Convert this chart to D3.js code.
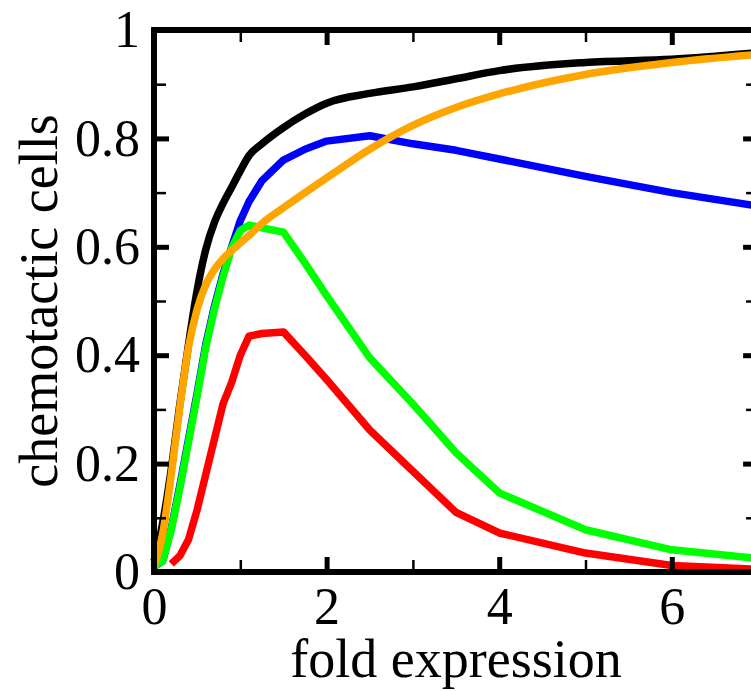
<!DOCTYPE html>
<html><head><meta charset="utf-8">
<script src="https://cdn.jsdelivr.net/npm/d3@7"></script>
<style>html,body{margin:0;padding:0;background:#fff;overflow:hidden}</style>
</head><body><svg id="chart" width="751" height="691"></svg>
<script>
const xGrid   = [0, 0.1, 0.2, 0.3, 0.4, 0.5, 0.6, 0.7, 0.8, 0.9, 1.0, 1.1, 1.25, 1.5, 1.75, 2, 2.5, 3, 3.5, 4, 5, 6, 7];
const black   = [0.02, 0.09, 0.19, 0.31, 0.42, 0.52, 0.595, 0.645, 0.68, 0.71, 0.74, 0.768, 0.79, 0.82, 0.845, 0.865, 0.883, 0.895, 0.91, 0.925, 0.94, 0.946, 0.958];
const blue    = [0.01, 0.02, 0.08, 0.16, 0.245, 0.33, 0.42, 0.49, 0.55, 0.60, 0.648, 0.683, 0.722, 0.76, 0.78, 0.795, 0.805, 0.79, 0.778, 0.762, 0.73, 0.70, 0.675];
const green   = [0.01, 0.02, 0.078, 0.155, 0.24, 0.325, 0.415, 0.485, 0.545, 0.598, 0.63, 0.64, 0.635, 0.627, 0.57, 0.51, 0.395, 0.31, 0.22, 0.146, 0.078, 0.041, 0.025];
const red     = [null, null, 0.015, 0.03, 0.06, 0.115, 0.18, 0.245, 0.31, 0.35, 0.40, 0.435, 0.44, 0.443, 0.40, 0.355, 0.262, 0.186, 0.11, 0.072, 0.035, 0.012, 0.005];
const orange  = [0.01, 0.07, 0.18, 0.305, 0.415, 0.485, 0.53, 0.558, 0.578, 0.593, 0.607, 0.621, 0.643, 0.672, 0.70, 0.727, 0.78, 0.824, 0.857, 0.882, 0.918, 0.94, 0.955];
const seriesNames  = ["black", "blue", "green", "red", "orange"];
const seriesColors = ["#000000", "#0000ff", "#00ff00", "#ff0000", "#ffa500"];
const xMajorTicks = [0, 2, 4, 6];
const xMinorTicks = [1, 3, 5, 7];
const yMajorTicks = [0, 0.2, 0.4, 0.6, 0.8, 1];
const yMinorTicks = [0.1, 0.3, 0.5, 0.7, 0.9];
const xTitle = "fold expression";
const yTitle = "chemotactic cells";

const series = [black, blue, green, red, orange];
const svg = d3.select("#chart");
const font = "'Liberation Serif','Times New Roman',Times,serif";
const x = d3.scaleLinear().domain([0, 7]).range([154, 154 + 7 * 86.3]);
const y = d3.scaleLinear().domain([0, 1]).range([572, 30]);

const lineLinear = d3.line()
  .defined(d => d[1] !== null)
  .x(d => x(d[0])).y(d => y(d[1]));
const lineSmooth = d3.line()
  .defined(d => d[1] !== null)
  .curve(d3.curveMonotoneX)
  .x(d => x(d[0])).y(d => y(d[1]));

const g = svg.append("g");
series.forEach((s, i) => {
  g.append("path")
    .datum(xGrid.map((xv, j) => [xv, s[j]]))
    .attr("d", seriesNames[i] === "orange" || seriesNames[i] === "black" ? lineSmooth : lineLinear)
    .attr("fill", "none")
    .attr("stroke", seriesColors[i])
    .attr("stroke-width", 7.5)
    .attr("stroke-linejoin", "round")
    .attr("stroke-linecap", "butt");
});

// frame
svg.append("rect")
  .attr("x", x(0)).attr("y", y(1))
  .attr("width", x(7) - x(0)).attr("height", y(0) - y(1))
  .attr("fill", "none").attr("stroke", "#000").attr("stroke-width", 6);

function styleAxis(sel, w) {
  sel.select(".domain").remove();
  sel.selectAll(".tick line").attr("stroke", "#000").attr("stroke-width", w);
  sel.selectAll("text").attr("font-family", font).attr("font-size", 52).attr("fill", "#000");
}
const yfmt = d => d === 0 ? "0" : d === 1 ? "1" : d.toFixed(1);

// major axes
svg.append("g").attr("transform", `translate(${x(0)},0)`)
  .call(d3.axisLeft(y).tickValues(yMajorTicks).tickFormat(yfmt).tickSizeInner(-15).tickSizeOuter(0).tickPadding(14))
  .call(s => styleAxis(s, 5));
svg.append("g").attr("transform", `translate(0,${y(0)})`)
  .call(d3.axisBottom(x).tickValues(xMajorTicks).tickFormat(d3.format("d")).tickSizeInner(-15).tickSizeOuter(0).tickPadding(15))
  .call(s => styleAxis(s, 5));
svg.append("g").attr("transform", `translate(0,${y(1)})`)
  .call(d3.axisTop(x).tickValues(xMajorTicks).tickFormat("").tickSizeInner(-15).tickSizeOuter(0))
  .call(s => styleAxis(s, 5));
svg.append("g").attr("transform", `translate(${x(7)},0)`)
  .call(d3.axisRight(y).tickValues(yMajorTicks).tickFormat("").tickSizeInner(-15).tickSizeOuter(0))
  .call(s => styleAxis(s, 5));
// minor ticks
svg.append("g").attr("transform", `translate(${x(0)},0)`)
  .call(d3.axisLeft(y).tickValues(yMinorTicks).tickFormat("").tickSizeInner(-12).tickSizeOuter(0))
  .call(s => styleAxis(s, 2.5));
svg.append("g").attr("transform", `translate(${x(7)},0)`)
  .call(d3.axisRight(y).tickValues(yMinorTicks).tickFormat("").tickSizeInner(-12).tickSizeOuter(0))
  .call(s => styleAxis(s, 2.5));
svg.append("g").attr("transform", `translate(0,${y(0)})`)
  .call(d3.axisBottom(x).tickValues(xMinorTicks).tickFormat("").tickSizeInner(-12).tickSizeOuter(0))
  .call(s => styleAxis(s, 2.5));
svg.append("g").attr("transform", `translate(0,${y(1)})`)
  .call(d3.axisTop(x).tickValues(xMinorTicks).tickFormat("").tickSizeInner(-12).tickSizeOuter(0))
  .call(s => styleAxis(s, 2.5));

// titles
svg.append("text")
  .attr("x", (x(0) + x(7)) / 2).attr("y", 677)
  .attr("text-anchor", "middle")
  .attr("font-family", font).attr("font-size", 54).attr("fill", "#000")
  .text(xTitle);
svg.append("text")
  .attr("transform", `translate(57,${(y(0) + y(1)) / 2}) rotate(-90)`)
  .attr("text-anchor", "middle")
  .attr("font-family", font).attr("font-size", 54).attr("fill", "#000")
  .text(yTitle);
</script></body></html>
